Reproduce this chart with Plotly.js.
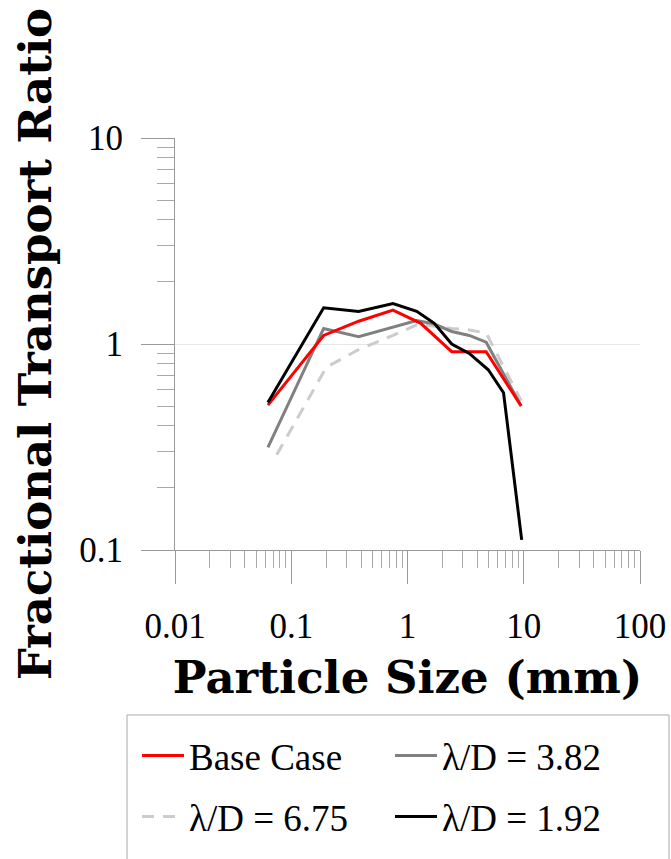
<!DOCTYPE html>
<html>
<head>
<meta charset="utf-8">
<script src="https://cdn.plot.ly/plotly-3.0.1.min.js"></script>
<style>html,body{margin:0;padding:0;background:#fff;}#chart{width:671px;height:859px;}</style>
</head>
<body>
<div id="chart"></div>
<script>
// Particle size (mm) for each series
const xBase = [0.063, 0.19, 0.38, 0.75, 1.3, 2.4, 4.75, 9.5];
const yBase = [0.505, 1.10, 1.29, 1.46, 1.26, 0.918, 0.918, 0.50];

const x382 = [0.063, 0.19, 0.38, 1.2, 1.7, 2.4, 3.4, 4.75, 9.5];
const y382 = [0.315, 1.19, 1.085, 1.30, 1.25, 1.15, 1.10, 1.02, 0.50];

const x675 = [0.075, 0.2, 0.38, 0.75, 1.2, 1.7, 2.4, 3.4, 4.75, 9.5];
const y675 = [0.29, 0.77, 0.94, 1.10, 1.24, 1.22, 1.19, 1.17, 1.13, 0.53];

const x192 = [0.063, 0.19, 0.38, 0.75, 1.2, 1.7, 2.4, 3.4, 4.95, 6.7, 9.6];
const y192 = [0.52, 1.50, 1.44, 1.57, 1.44, 1.26, 1.0, 0.90, 0.75, 0.58, 0.112];

const names = ["Base Case", "\u03bb/D = 3.82", "\u03bb/D = 6.75", "\u03bb/D = 1.92"];
const xTitle = "Particle Size (mm)";
const yTitle = "Fractional Transport Ratio";

const traces = [
  {x: x675, y: y675, name: names[2], mode: "lines", legend: "legend2", legendrank: 1,
   line: {color: "#cccccc", width: 3, dash: "12px,9px"}},
  {x: x382, y: y382, name: names[1], mode: "lines", legend: "legend", legendrank: 2,
   line: {color: "#808080", width: 3}},
  {x: xBase, y: yBase, name: names[0], mode: "lines", legend: "legend", legendrank: 1,
   line: {color: "#ff0000", width: 3}},
  {x: x192, y: y192, name: names[3], mode: "lines", legend: "legend2", legendrank: 2,
   line: {color: "#000000", width: 3}}
];

const tickFont = {family: "Liberation Serif, serif", size: 35, color: "#000"};
const titleFont = {family: "DejaVu Serif, serif", size: 45, color: "#000", weight: "bold"};
const legFont = {family: "Liberation Serif, serif", size: 37, color: "#000"};

const legendCommon = {
  orientation: "h", xref: "paper", yref: "paper", xanchor: "left", yanchor: "middle",
  font: legFont, bgcolor: "rgba(0,0,0,0)", borderwidth: 0,
  itemwidth: 42, entrywidth: 196, entrywidthmode: "pixels", traceorder: "normal"
};

const layout = {
  width: 671, height: 859,
  margin: {l: 175, r: 31, t: 138, b: 309, autoexpand: false},
  paper_bgcolor: "#fff", plot_bgcolor: "#fff",
  showlegend: true,
  xaxis: {
    type: "log", range: [-2, 2], tickmode: "linear", tick0: 0, dtick: 1,
    exponentformat: "none",
    showgrid: false, zeroline: false,
    showline: true, linecolor: "#999", linewidth: 1,
    ticks: "outside", ticklen: 33, tickcolor: "#999", tickwidth: 1,
    ticklabelstandoff: 12,
    minor: {dtick: "D1", ticks: "outside", ticklen: 17, tickcolor: "#aaa", tickwidth: 1, showgrid: false},
    tickfont: tickFont,
    title: {text: xTitle, font: titleFont, standoff: 16}
  },
  yaxis: {
    type: "log", range: [-1, 1], tickmode: "linear", tick0: 0, dtick: 1,
    exponentformat: "none",
    showgrid: true, gridcolor: "#e6e6e6", gridwidth: 1, zeroline: false,
    showline: true, linecolor: "#999", linewidth: 1,
    ticks: "outside", ticklen: 33, tickcolor: "#999", tickwidth: 1,
    ticklabelstandoff: 11,
    minor: {dtick: "D1", ticks: "outside", ticklen: 17, tickcolor: "#aaa", tickwidth: 1, showgrid: false},
    tickfont: tickFont,
    title: {text: yTitle, font: titleFont, standoff: 13}
  },
  legend: Object.assign({}, legendCommon, {x: (137 - 175) / 465, y: (550 - 756) / 412}),
  legend2: Object.assign({}, legendCommon, {x: (137 - 175) / 465, y: (550 - 817) / 412}),
  shapes: [{
    type: "rect", xref: "paper", yref: "paper",
    x0: (127 - 175) / 465, x1: (669 - 175) / 465,
    y0: (550 - 715) / 412, y1: (550 - 866) / 412,
    line: {color: "#aaaaaa", width: 1}, fillcolor: "rgba(0,0,0,0)", layer: "above"
  }]
};

Plotly.newPlot("chart", traces, layout, {displayModeBar: false, staticPlot: true});
</script>
</body>
</html>
